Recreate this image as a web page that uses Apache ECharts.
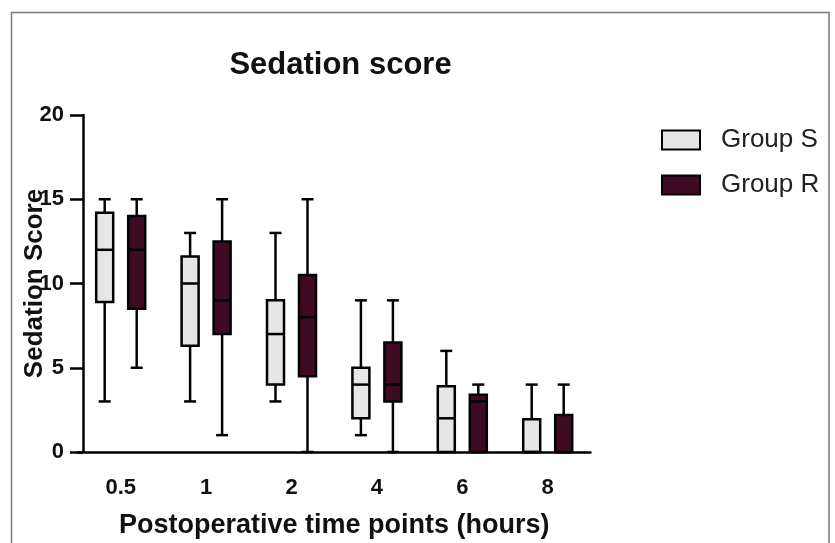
<!DOCTYPE html>
<html>
<head>
<meta charset="utf-8">
<script src="https://cdn.jsdelivr.net/npm/echarts@6/dist/echarts.min.js"></script>
<style>html,body{margin:0;padding:0;background:#fff;}#c{width:835px;height:543px;}</style>
</head>
<body>
<div id="c"></div>
<script>
// Categories (postoperative time points, hours)
const categories = ['0.5', '1', '2', '4', '6', '8'];
// Box statistics per category: [min, Q1, median, Q3, max]
const groupS = [
  [3, 8.9, 12, 14.2, 15],
  [3, 6.3, 10, 11.6, 13],
  [3, 4, 7, 9, 13],
  [1, 2, 4, 5, 9],
  [0, 0, 2, 3.9, 6],
  [0, 0, 0, 1.95, 4]
];
const groupR = [
  [5, 8.5, 12, 14, 15],
  [1, 7, 9, 12.5, 15],
  [0, 4.5, 8, 10.5, 15],
  [0, 3, 4, 6.5, 9],
  [0, 0, 3, 3.4, 4],
  [0, 0, 0, 2.2, 4]
];
const seriesNames = ['Group S', 'Group R'];
const yTicks = [0, 5, 10, 15, 20];

const FONT = '"Liberation Sans", Arial, Helvetica, sans-serif';
const colorS = '#e6e6e6';
const colorR = '#3f0b22';

function toData(arr) {
  return arr.map(function (d, i) { return [i].concat(d); });
}

function makeRender(offset, fill) {
  return function (params, api) {
    const i = api.value(0);
    const cx = api.coord([i, 0])[0] + offset;
    const yMin = api.coord([i, api.value(1)])[1];
    const yQ1 = api.coord([i, api.value(2)])[1];
    const yMed = api.coord([i, api.value(3)])[1];
    const yQ3 = api.coord([i, api.value(4)])[1];
    const yMax = api.coord([i, api.value(5)])[1];
    const hw = 8.5, cap = 6, lw = 2.5;
    const st = { stroke: '#000', lineWidth: lw };
    return {
      type: 'group',
      children: [
        { type: 'line', shape: { x1: cx, y1: yMax, x2: cx, y2: yQ3 }, style: st },
        { type: 'line', shape: { x1: cx - cap, y1: yMax, x2: cx + cap, y2: yMax }, style: st },
        { type: 'line', shape: { x1: cx, y1: yQ1, x2: cx, y2: yMin }, style: st },
        { type: 'line', shape: { x1: cx - cap, y1: yMin, x2: cx + cap, y2: yMin }, style: st },
        { type: 'rect', shape: { x: cx - hw, y: yQ3, width: hw * 2, height: yQ1 - yQ3 },
          style: { fill: fill, stroke: '#000', lineWidth: lw } },
        { type: 'line', shape: { x1: cx - hw, y1: yMed, x2: cx + hw, y2: yMed }, style: st }
      ]
    };
  };
}

const chart = echarts.init(document.getElementById('c'), null, { renderer: 'canvas' });
chart.setOption({
  backgroundColor: '#fff',
  animation: false,
  title: {
    text: 'Sedation score',
    left: 335.5, textAlign: 'center',
    top: 45,
    textStyle: { fontFamily: FONT, fontSize: 31, fontWeight: 'bold', color: '#111' }
  },
  legend: {
    orient: 'vertical',
    left: 656, top: 122,
    itemWidth: 38, itemHeight: 19, itemGap: 19,
    textStyle: { fontFamily: FONT, fontSize: 26, color: '#222', padding: [0, 0, 0, 16] },
    data: [
      { name: seriesNames[0], icon: 'rect', itemStyle: { color: colorS, borderColor: '#000', borderWidth: 2 } },
      { name: seriesNames[1], icon: 'rect', itemStyle: { color: colorR, borderColor: '#000', borderWidth: 2 } }
    ]
  },
  graphic: [{
    type: 'rect', silent: true, z: -1,
    shape: { x: 11.5, y: 12.5, width: 817.5, height: 600 },
    style: { fill: 'none', stroke: '#7a7a7a', lineWidth: 1.5 }
  }],
  grid: { left: 78, width: 512.4, top: 115, height: 337, outerBoundsMode: 'none', containLabel: false },
  xAxis: {
    type: 'category',
    data: categories,
    name: 'Postoperative time points (hours)',
    nameLocation: 'middle',
    nameGap: 60,
    nameMoveOverlap: false,
    nameTextStyle: { fontFamily: FONT, fontSize: 27, fontWeight: 'bold', color: '#111' },
    axisLine: { lineStyle: { color: '#000', width: 2.5 } },
    axisTick: { alignWithLabel: true, length: 10, lineStyle: { color: '#000', width: 2.5 } },
    axisLabel: { fontFamily: FONT, fontSize: 22, fontWeight: 'bold', color: '#111', margin: 25 },
    splitLine: { show: false }
  },
  yAxis: {
    type: 'value',
    min: yTicks[0], max: yTicks[yTicks.length - 1], interval: 5,
    offset: -5,
    name: 'Sedation Score',
    nameLocation: 'middle',
    nameRotate: 90,
    nameGap: 35,
    nameMoveOverlap: false,
    nameTextStyle: { fontFamily: FONT, fontSize: 26, fontWeight: 'bold', color: '#111' },
    axisLine: { show: true, lineStyle: { color: '#000', width: 2.5 } },
    axisTick: { show: true, length: 13, lineStyle: { color: '#000', width: 2.5 } },
    axisLabel: { fontFamily: FONT, fontSize: 22, fontWeight: 'bold', color: '#111', margin: 19 },
    splitLine: { show: false }
  },
  series: [
    {
      name: seriesNames[0], type: 'custom',
      itemStyle: { color: colorS },
      encode: { x: 0, y: [1, 2, 3, 4, 5] },
      renderItem: makeRender(-16, colorS),
      data: toData(groupS), z: 3
    },
    {
      name: seriesNames[1], type: 'custom',
      itemStyle: { color: colorR },
      encode: { x: 0, y: [1, 2, 3, 4, 5] },
      renderItem: makeRender(16, colorR),
      data: toData(groupR), z: 3
    }
  ]
});
</script>
</body>
</html>
